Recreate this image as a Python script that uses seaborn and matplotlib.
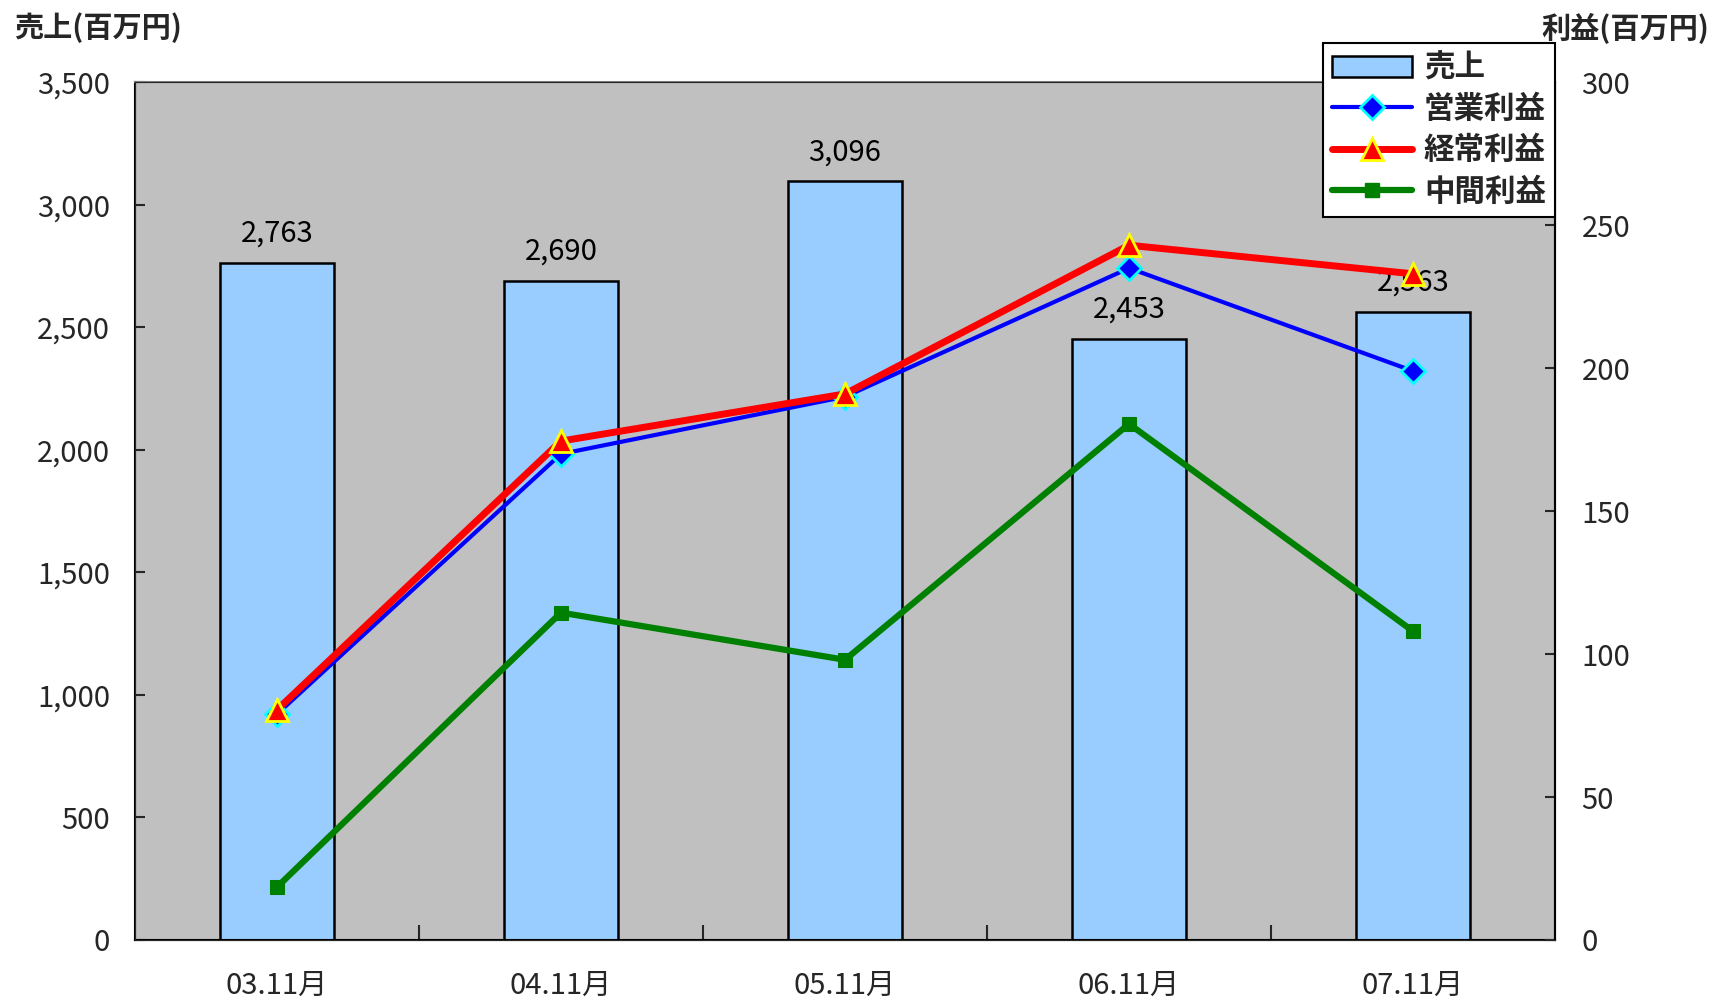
import numpy as np
import pandas as pd
import seaborn as sns
import matplotlib.pyplot as plt
from matplotlib.patches import Patch
from matplotlib.lines import Line2D
from matplotlib.ticker import FuncFormatter, FixedLocator

# Data
periods = ['03.11月', '04.11月', '05.11月', '06.11月', '07.11月']
sales = [2763, 2690, 3096, 2453, 2563]
op_profit = [79, 170, 190, 235, 199]
ord_profit = [80.5, 174.5, 191, 243, 233]
int_profit = [18.5, 114.5, 98, 180.5, 108]

df = pd.DataFrame({'period': periods, 'sales': sales, 'op': op_profit,
                   'ord': ord_profit, 'int': int_profit, 'pos': range(len(periods))})

sns.set_style('ticks')
plt.rcParams['font.family'] = ['Noto Sans CJK JP', 'DejaVu Sans']

fig = plt.figure(figsize=(17.13, 10.02), dpi=100)
ax = fig.add_axes([0.0788, 0.0619, 0.829, 0.856])
ax.set_facecolor('#C0C0C0')

sns.barplot(df, x='period', y='sales', color='#99CCFF', saturation=1, width=0.4,
            edgecolor='black', linewidth=1.8, ax=ax, zorder=2)
ax.bar_label(ax.containers[0], labels=[f'{v:,}' for v in sales], padding=10,
             fontsize=21, color='black')
ax.set_xlim(-0.5, len(periods) - 0.5)
ax.set_ylim(0, 3500)
ax.set_yticks(np.arange(0, 3501, 500))
ax.yaxis.set_major_formatter(FuncFormatter(lambda v, p: f'{int(v):,}'))
ax.tick_params(axis='y', direction='in', length=7, width=1.5, pad=18, labelsize=21)
ax.tick_params(axis='x', which='major', length=0, pad=22, labelsize=21)
ax.xaxis.set_minor_locator(FixedLocator(np.arange(0.5, len(periods) - 0.5, 1)))
ax.tick_params(axis='x', which='minor', direction='in', length=11, width=1.5)
ax.set_xlabel(None)
ax.set_ylabel(None)
for s in ['left', 'bottom', 'right']:
    ax.spines[s].set_color('black')
    ax.spines[s].set_linewidth(1.5)
ax.spines['top'].set_color('#808080')
ax.spines['top'].set_linewidth(1.5)

ax2 = ax.twinx()
sns.lineplot(df, x='pos', y='op', color='#0000FF', linewidth=3, marker='D', markersize=12,
             markerfacecolor='#0000FF', markeredgecolor='#00FFFF', markeredgewidth=2, ax=ax2)
sns.lineplot(df, x='pos', y='ord', color='#FF0000', linewidth=5, marker='^', markersize=16,
             markerfacecolor='#FF0000', markeredgecolor='#FFFF00', markeredgewidth=2, ax=ax2)
sns.lineplot(df, x='pos', y='int', color='#008000', linewidth=4.5, marker='s', markersize=10,
             markerfacecolor='#008000', markeredgecolor='#008000', ax=ax2)
ax2.set_xlim(-0.5, len(periods) - 0.5)
ax2.set_ylim(0, 300)
ax2.set_yticks(np.arange(0, 301, 50))
ax2.tick_params(axis='y', direction='in', length=7, width=1.5, pad=19, labelsize=21)
ax2.set_xlabel(None)
ax2.set_ylabel(None)
ax2.spines['right'].set_color('black')
ax2.spines['right'].set_linewidth(1.5)

handles = [
    Patch(facecolor='#99CCFF', edgecolor='black', linewidth=1.8),
    Line2D([], [], color='#0000FF', linewidth=3, marker='D', markersize=12,
           markerfacecolor='#0000FF', markeredgecolor='#00FFFF', markeredgewidth=2),
    Line2D([], [], color='#FF0000', linewidth=5, marker='^', markersize=16,
           markerfacecolor='#FF0000', markeredgecolor='#FFFF00', markeredgewidth=2),
    Line2D([], [], color='#008000', linewidth=4.5, marker='s', markersize=10),
]
leg = ax2.legend(handles, ['売上', '営業利益', '経常利益', '中間利益'], loc='upper right',
                 bbox_to_anchor=(1.0, 1.046), fancybox=False, framealpha=1, edgecolor='black',
                 prop={'size': 22, 'weight': 'bold'}, handlelength=2.6, labelspacing=0.3,
                 borderpad=0.3, handletextpad=0.4, borderaxespad=0)
leg.get_frame().set_linewidth(1.5)

fig.text(0.008, 0.972, '売上(百万円)', fontsize=21, fontweight='bold', va='center', ha='left')
fig.text(0.998, 0.972, '利益(百万円)', fontsize=21, fontweight='bold', va='center', ha='right')

plt.savefig('out.png', dpi=100)
